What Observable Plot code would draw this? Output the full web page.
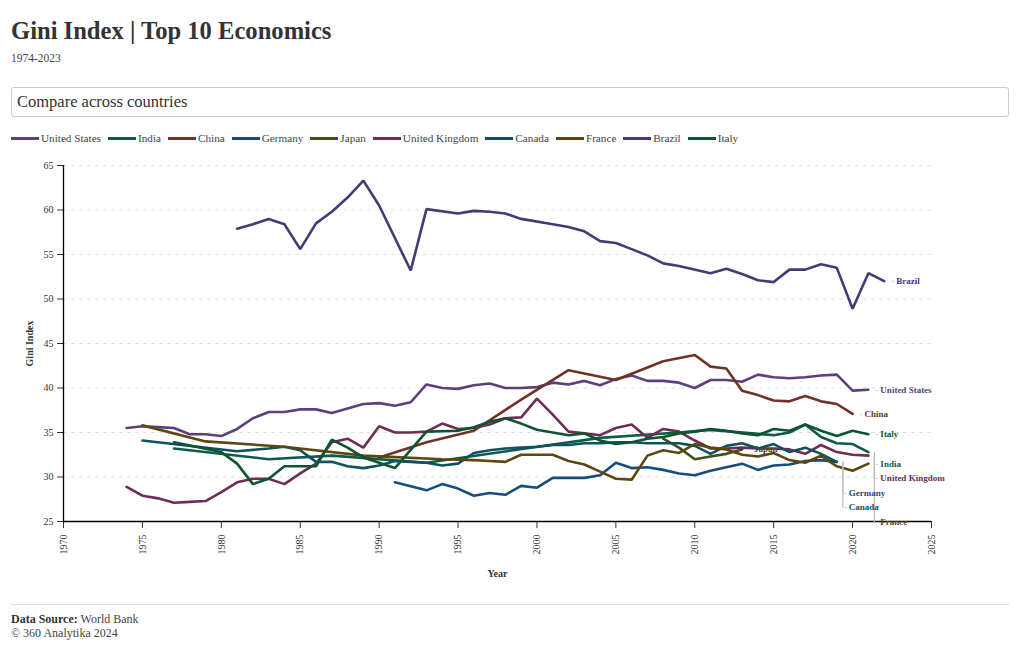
<!DOCTYPE html>
<html><head><meta charset="utf-8">
<script src="https://cdn.jsdelivr.net/npm/d3@7"></script>
<script src="https://cdn.jsdelivr.net/npm/@observablehq/plot@0.6"></script>
<style>
body{margin:0;background:#fff;font-family:"Liberation Serif",serif;color:#333;}
#wrap{padding:0 11px;width:998px;}
h1{font-size:24.6px;font-weight:bold;margin:0;padding-top:17px;line-height:28px;color:#333;}
.sub{font-size:11.5px;line-height:14px;margin-top:6px;color:#444;}
.box{margin-top:22px;height:28px;border:1px solid #ccc;border-radius:3px;font-size:16.5px;line-height:28px;padding-left:5px;color:#333;}
.legend{margin-top:14px;height:14px;display:flex;align-items:center;font-size:11.2px;color:#444;}
.legend .it{display:flex;align-items:center;margin-right:7px;}
.legend .sw{width:28px;height:3px;margin-right:2px;}
#chart{margin-top:5px;height:436px;}
.foot{margin-top:18px;border-top:1px solid #ddd;padding-top:7px;font-size:12px;line-height:14px;color:#444;}
.foot b{color:#333;}
g[aria-label="y-axis label"] text, g[aria-label="x-axis label"] text{font-weight:bold;}
</style></head>
<body><div id="wrap">
<h1>Gini Index | Top 10 Economics</h1>
<div class="sub">1974-2023</div>
<div class="box">Compare across countries</div>
<div class="legend" id="legend"></div>
<div id="chart"></div>
<div class="foot"><b>Data Source:</b> World Bank<br>© 360 Analytika 2024</div>
</div>
<script>
const countries = ["United States","India","China","Germany","Japan","United Kingdom","Canada","France","Brazil","Italy"];
const colors = ["#5d3f7c","#0f5b4a","#6e3324","#164d7c","#3d5219","#6e2c57","#0e5261","#5e4611","#433c73","#0c5530"];

const usYears = d3.range(1974, 2022);
const usGini = [35.5,35.7,35.6,35.5,34.8,34.8,34.6,35.4,36.6,37.3,37.3,37.6,37.6,37.2,37.7,38.2,38.3,38.0,38.4,40.4,40.0,39.9,40.3,40.5,40.0,40.0,40.1,40.6,40.4,40.8,40.3,41.0,41.4,40.8,40.8,40.6,40.0,40.9,40.9,40.7,41.5,41.2,41.1,41.2,41.4,41.5,39.7,39.8];

const indiaYears = [1977,1983,1987,1993,2004,2009,2011,2015,2016,2017,2018,2019,2020,2021];
const indiaGini = [33.2,32.0,32.4,31.6,34.4,35.0,35.3,34.7,35.0,35.9,34.5,33.8,33.7,32.8];

const chinaYears = [1990,1993,1996,1999,2002,2005,2008,2010,2011,2012,2013,2014,2015,2016,2017,2018,2019,2020];
const chinaGini = [32.2,33.9,35.2,38.7,42.0,40.9,43.0,43.7,42.4,42.2,39.7,39.2,38.6,38.5,39.1,38.5,38.2,37.1];

const germanyYears = [1991,1993,1994,1995,1996,1997,1998,1999,2000,2001,2002,2003,2004,2005,2006,2007,2008,2009,2010,2011,2012,2013,2014,2015,2016,2017,2018,2019];
const germanyGini = [29.4,28.5,29.2,28.7,27.9,28.2,28.0,29.0,28.8,29.9,29.9,29.9,30.2,31.6,31.0,31.1,30.8,30.4,30.2,30.7,31.1,31.5,30.8,31.3,31.4,31.8,31.9,31.7];

const japanYears = [2008,2009,2010,2011,2012,2013];
const japanGini = [34.3,33.3,32.0,32.3,32.6,33.1];

const ukYears = d3.range(1974, 2022);
const ukGini = [28.9,27.9,27.6,27.1,27.2,27.3,28.3,29.4,29.8,29.8,29.2,30.4,31.5,33.9,34.3,33.3,35.7,35.0,35.0,35.1,36.0,35.4,35.5,35.9,36.6,36.7,38.8,37.0,35.1,34.9,34.7,35.5,35.9,34.4,35.4,35.1,34.1,33.2,33.2,33.3,33.2,33.2,33.1,32.6,33.6,32.8,32.5,32.4];

const canadaYears = [1975,1981,1983,1984,1985,1986,1987,1988,1989,1990,1991,1992,1993,1994,1995,1996,1997,1998,1999,2000,2001,2002,2003,2004,2005,2006,2007,2008,2009,2010,2011,2012,2013,2014,2015,2016,2017,2018,2019];
const canadaGini = [34.1,32.9,33.2,33.4,33.0,31.7,31.7,31.2,31.0,31.3,31.8,31.7,31.6,31.3,31.5,32.7,33.0,33.2,33.3,33.4,33.6,33.6,33.8,33.8,33.9,33.9,33.8,33.8,33.8,33.5,32.6,33.5,33.8,33.2,33.7,32.8,33.3,32.6,31.7];

const franceYears = [1975,1979,1984,1989,1994,1996,1997,1998,1999,2000,2001,2002,2003,2004,2005,2006,2007,2008,2009,2010,2011,2012,2013,2014,2015,2016,2017,2018,2019,2020,2021];
const franceGini = [35.8,34.0,33.4,32.4,32.0,31.9,31.8,31.7,32.5,32.5,32.5,31.8,31.4,30.6,29.8,29.7,32.4,33.0,32.7,33.7,33.3,33.1,32.5,32.3,32.7,31.9,31.6,32.4,31.2,30.7,31.5];

const brazilYears = [1981,1982,1983,1984,1985,1986,1987,1988,1989,1990,1992,1993,1995,1996,1997,1998,1999,2001,2002,2003,2004,2005,2006,2007,2008,2009,2011,2012,2013,2014,2015,2016,2017,2018,2019,2020,2021,2022];
const brazilGini = [57.9,58.4,59.0,58.4,55.6,58.5,59.8,61.4,63.3,60.5,53.2,60.1,59.6,59.9,59.8,59.6,59.0,58.4,58.1,57.6,56.5,56.3,55.6,54.9,54.0,53.7,52.9,53.4,52.8,52.1,51.9,53.3,53.3,53.9,53.5,48.9,52.9,52.0];

const italyYears = [1977,1980,1981,1982,1983,1984,1986,1987,1988,1989,1991,1993,1995,1996,1997,1998,1999,2000,2001,2002,2003,2004,2005,2006,2007,2008,2009,2010,2011,2012,2013,2014,2015,2016,2017,2018,2019,2020,2021];
const italyGini = [33.9,32.8,31.5,29.2,29.8,31.2,31.2,34.2,33.3,32.2,31.0,35.1,35.2,35.6,36.2,36.6,36.0,35.3,35.0,34.7,34.9,34.1,33.7,33.9,34.3,34.5,34.9,35.1,35.4,35.2,34.9,34.7,35.4,35.2,35.9,35.2,34.6,35.2,34.8];

const xTicks = d3.range(1970, 2026, 5);
const yTicks = d3.range(25, 66, 5);

const series = [
  ["United States", usYears, usGini],
  ["India", indiaYears, indiaGini],
  ["China", chinaYears, chinaGini],
  ["Germany", germanyYears, germanyGini],
  ["Japan", japanYears, japanGini],
  ["United Kingdom", ukYears, ukGini],
  ["Canada", canadaYears, canadaGini],
  ["France", franceYears, franceGini],
  ["Brazil", brazilYears, brazilGini],
  ["Italy", italyYears, italyGini]
];
const rows = series.flatMap(([c, ys, vs]) => ys.map((y, i) => ({country: c, year: y, value: vs[i]})));

// end labels with simple vertical dodge (in data units)
const ends = series.map(([c, ys, vs]) => ({country: c, year: ys[ys.length-1], end: vs[vs.length-1]}));
ends.sort((a, b) => b.end - a.end);
const gap = 1.63;
let prev = Infinity;
for (const e of ends) { e.label = Math.min(e.end, prev - gap); prev = e.label; }
const moved = ends.filter(e => e.end - e.label > 0.05);

// legend
const lg = document.getElementById("legend");
countries.forEach((c, i) => {
  const it = document.createElement("div"); it.className = "it";
  it.innerHTML = `<span class="sw" style="background:${colors[i]}"></span><span>${c}</span>`;
  lg.appendChild(it);
});

const chart = Plot.plot({
  width: 998, height: 436,
  marginLeft: 52, marginRight: 78, marginTop: 15, marginBottom: 65,
  style: {fontFamily: "Liberation Serif, serif", fontSize: "10px", color: "#333", background: "#fff"},
  x: {domain: [1970, 2025]},
  y: {domain: [25, 65]},
  color: {domain: countries, range: colors},
  marks: [
    Plot.ruleY(yTicks.filter(d => d > 25), {stroke: "#e4e4e4", strokeDasharray: "4,4"}),
    Plot.axisY({ticks: yTicks, tickSize: 6, tickPadding: 4, label: "Gini Index", labelAnchor: "center", labelArrow: "none", labelOffset: 38}),
    Plot.axisX({ticks: xTicks, tickFormat: "d", tickSize: 7, tickPadding: 6, tickRotate: -90, label: "Year", labelAnchor: "center", labelArrow: "none", labelOffset: 55}),
    Plot.ruleY([25], {stroke: "#000", strokeWidth: 1.3}),
    Plot.ruleX([1970], {stroke: "#000", strokeWidth: 1.3}),
    Plot.line(rows, {x: "year", y: "value", z: "country", stroke: "country", strokeWidth: 2.6, strokeLinejoin: "miter"}),
    Plot.link(moved, {x1: "year", x2: "year", y1: "end", y2: "label", dx: 6, stroke: "#bbb", strokeWidth: 1.2}),
    Plot.text(ends, {x: "year", y: "label", text: () => "-", dx: 7, fill: "#bbb", textAnchor: "start", fontSize: 9}),
    Plot.text(ends, {x: "year", y: "label", text: "country", fill: "country", dx: 12, textAnchor: "start", fontWeight: "bold", fontSize: 9})
  ]
});
document.getElementById("chart").appendChild(chart);
</script>
</body></html>
